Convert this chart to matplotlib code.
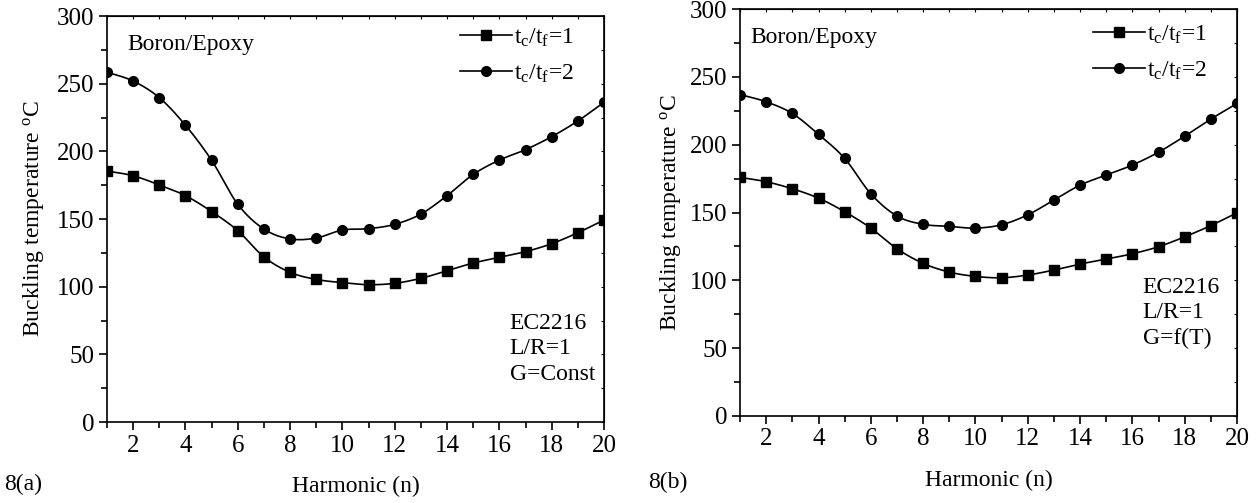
import numpy as np
import matplotlib
matplotlib.use('Agg')
import matplotlib.pyplot as plt
from matplotlib.ticker import MultipleLocator

plt.rcParams['font.family'] = 'Liberation Serif'
plt.rcParams['mathtext.fontset'] = 'custom'
plt.rcParams['mathtext.rm'] = 'Liberation Serif'
plt.rcParams['mathtext.it'] = 'Liberation Serif'

# harmonic number
n = np.arange(1, 21)

# 8(a) G=Const
a_tc1 = [185.5, 182, 175.2, 167.3, 155.5, 141.4, 122, 110.6, 105.4, 103, 101.5, 102.5,
         106.2, 111.8, 117.5, 121.7, 125.9, 131.8, 139.9, 149.3]
a_tc2 = [258.6, 252, 239.7, 219.3, 193.4, 160.9, 142.6, 135.3, 136, 141.9, 142.9, 146.1,
         153.7, 167.3, 183, 193.6, 201.3, 210.9, 222.5, 236.3]

# 8(b) G=f(T)
b_tc1 = [175.9, 172.7, 167.5, 160.6, 150.6, 138.5, 123.3, 112.5, 106.1, 102.9, 101.9, 103.9,
         107.6, 112, 115.7, 119.6, 124.8, 132.1, 140.4, 149.8]
b_tc2 = [237, 231.6, 223, 207.6, 189.9, 163.8, 147.4, 141.3, 139.8, 138.5, 141, 148.3,
         159.2, 170.2, 177.6, 185, 194.5, 206.3, 218.9, 230.4]

legend_labels = [r'$\mathregular{t_c/t_f}$=1', r'$\mathregular{t_c/t_f}$=2']


def smooth(x, y, k=12):
    # hermite curve through the points, only for drawing the line
    x = np.asarray(x, float)
    y = np.asarray(y, float)
    m = np.gradient(y, x)
    xs, ys = [], []
    for i in range(len(x) - 1):
        h = x[i + 1] - x[i]
        t = np.linspace(0, 1, k, endpoint=False)
        h00 = 2 * t**3 - 3 * t**2 + 1
        h10 = t**3 - 2 * t**2 + t
        h01 = -2 * t**3 + 3 * t**2
        h11 = t**3 - t**2
        xs.append(x[i] + t * h)
        ys.append(h00 * y[i] + h10 * h * m[i] + h01 * y[i + 1] + h11 * h * m[i + 1])
    xs.append([x[-1]])
    ys.append([y[-1]])
    return np.concatenate(xs), np.concatenate(ys)


fig = plt.figure(figsize=(12.56, 5.03), dpi=100)
ax1 = fig.add_axes([0.0852, 0.161, 0.3957, 0.807])
ax2 = fig.add_axes([0.5892, 0.173, 0.3957, 0.809])


def draw(ax, y1, y2, notes, notes_y, title_x, leg_y, ypad):
    for y, mk, ms, lab in [(y1, 's', 6.5, legend_labels[0]), (y2, 'o', 7, legend_labels[1])]:
        sx, sy = smooth(n, y)
        ax.plot(sx, sy, 'k-', lw=1.2)
        ax.plot(n, y, 'k' + mk, ms=ms, ls='none')
        ax.plot([], [], 'k-', marker=mk, ms=ms, lw=1.2, label=lab)
    ax.set_xlim(1, 20)
    ax.set_ylim(0, 300)
    ax.xaxis.set_major_locator(MultipleLocator(2))
    ax.xaxis.set_minor_locator(MultipleLocator(1))
    ax.yaxis.set_major_locator(MultipleLocator(50))
    ax.yaxis.set_minor_locator(MultipleLocator(25))
    ax.tick_params(which='both', direction='out', labelsize=18, width=1.2, pad=3)
    ax.tick_params(which='major', length=6)
    ax.tick_params(which='minor', length=4)
    for s in ax.spines.values():
        s.set_linewidth(1.2)
    sec_x = ax.secondary_xaxis('top')
    sec_x.xaxis.set_major_locator(MultipleLocator(1))
    sec_x.tick_params(direction='in', length=2, labeltop=False)
    sec_y = ax.secondary_yaxis('right')
    sec_y.yaxis.set_major_locator(MultipleLocator(25))
    sec_y.tick_params(direction='in', length=2, labelright=False)
    ax.set_xlabel('Harmonic (n)', fontsize=17, labelpad=14)
    ax.set_ylabel(r'Buckling temperature $\mathregular{^o}$C', fontsize=17, labelpad=ypad)
    ax.text(title_x, 0.93, 'Boron/Epoxy', transform=ax.transAxes, fontsize=17, va='center')
    ax.text(0.81, notes_y, notes, transform=ax.transAxes, fontsize=17, va='center',
            linespacing=1.3)
    ax.legend(loc='upper left', frameon=False, fontsize=17, handlelength=2.2,
              handletextpad=0.1, labelspacing=0.6, borderaxespad=0, borderpad=0,
              bbox_to_anchor=(0.71, leg_y))


draw(ax1, a_tc1, a_tc2, 'EC2216\nL/R=1\nG=Const', 0.18, 0.04, 0.975, 8)
draw(ax2, b_tc1, b_tc2, 'EC2216\nL/R=1\nG=f(T)', 0.253, 0.02, 0.965, 5)

fig.text(0.003, 0.025, '8(a)', fontsize=17)
fig.text(0.516, 0.03, '8(b)', fontsize=17)

fig.savefig('out.png', dpi=100)
